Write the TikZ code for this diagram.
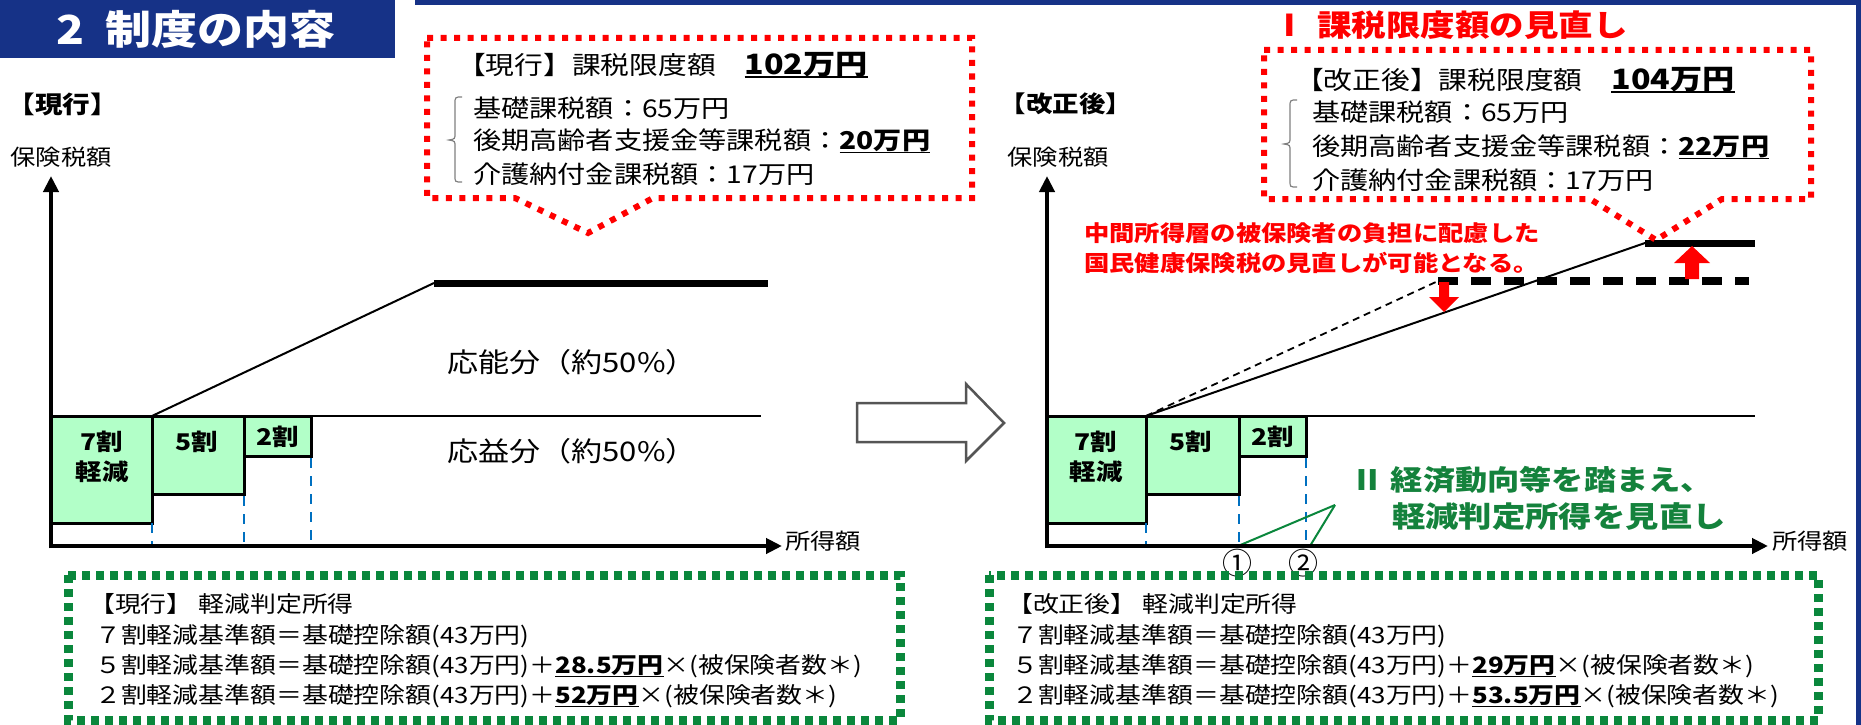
\documentclass[tikz,border=0pt]{standalone}
\usepackage{fontspec}
\setmainfont{Noto Sans CJK JP}
\usetikzlibrary{arrows.meta}
\definecolor{titleblue}{RGB}{22,50,135}
\definecolor{boxgreen}{RGB}{178,255,200}
\definecolor{dotgreen}{RGB}{10,135,60}
\definecolor{txtgreen}{RGB}{20,130,60}
\definecolor{dashblue}{RGB}{0,112,192}
\definecolor{arrgray}{RGB}{85,85,85}
\newcommand{\fs}[1]{\fontsize{#1}{#1}\selectfont}
\newsavebox{\ulbox}
\newcommand{\bul}[1]{\sbox{\ulbox}{\textbf{#1}}\rlap{\rule[-4pt]{\wd\ulbox}{1.8pt}}\usebox{\ulbox}}
\begin{document}
\begin{tikzpicture}[x=1pt,y=-1pt,
  txt/.style={inner sep=0pt, xscale=1.15, anchor=west},
  ctxt/.style={inner sep=0pt, xscale=1.15},
  axisline/.style={line width=4.5pt, -{Triangle[length=16pt,width=15pt]}},
  redbox/.style={draw=red, line width=6pt, dash pattern=on 6pt off 7.5pt},
  greenbox/.style={draw=dotgreen, line width=9pt, dash pattern=on 8pt off 6pt},
  rebox/.style={fill=boxgreen, draw=black, line width=3pt},
  bluedash/.style={dashblue, line width=2.5pt, dash pattern=on 10pt off 8pt},
  bracestyle/.style={draw=gray, line width=1.2pt},
]
\useasboundingbox (0,0) rectangle (1861,725);
\fill[white] (0,0) rectangle (1861,725);
% frame and title
\fill[titleblue] (0,0) rectangle (395,58);
\node[ctxt, text=white] (title) at (196,29) {\fs{40}\bfseries 2\hspace{0.45em}制度の内容};
\fill[titleblue] (415,0) rectangle (1861,5);
\fill[titleblue] (1856,0) rectangle (1861,725);

% ================= LEFT CHART =================
\node[ctxt] (lblL) at (63,104) {\fs{24}\bfseries 【現行】};
\node[ctxt] (yL) at (61,157) {\fs{22}保険税額};
\coordinate (OL) at (51,546);
\coordinate (OLb) at (51,548.25);
\coordinate (YL) at (51,176);
\coordinate (XL) at (782,546);

\draw[rebox] (51,416) rectangle (152,523);
\draw[rebox] (152,416) rectangle (244,494);
\draw[rebox] (244,416) rectangle (311,456);
\node[ctxt] (b7L) at (102,442) {\fs{23}\bfseries 7割};
\node[ctxt] (b7Lb) at (102,472) {\fs{23}\bfseries 軽減};
\node[ctxt] (b5L) at (197,442) {\fs{23}\bfseries 5割};
\node[ctxt] (b2L) at (278,437) {\fs{23}\bfseries 2割};

\coordinate (tlL1) at (311,416); \coordinate (tlL2) at (761,416);
\draw[line width=1.3pt] (tlL1) -- (tlL2);
\coordinate (dL1) at (152,416); \coordinate (dL2) at (434,283); \coordinate (dL3) at (768,283);
\draw[line width=2pt] (dL1) -- (dL2);
\draw[line width=7pt] (dL2) -- (dL3);

\node[ctxt] (onoL) at (572,362) {\fs{27}応能分（約50\%）};
\node[ctxt] (oekiL) at (572,451) {\fs{27}応益分（約50\%）};

\draw[bluedash] (152,523) -- (152,546);
\draw[bluedash] (244,496) -- (244,546);
\draw[bluedash] (311,458) -- (311,546);

\draw[axisline] (OLb) -- (YL);
\draw[axisline] (OL) -- (XL);
\node[txt] (xlabL) at (785,541) {\fs{22}所得額};

% left callout
\draw[redbox] (427,38) -- (972,38) -- (972,198) -- (653,198) -- (588,233) -- (515,198) -- (427,198) -- cycle;
\node[txt] (c1L) at (457,65) {\fs{25}【現行】課税限度額\hspace{1em}{\fs{28}\bul{102万円}}};
\draw[bracestyle] (462,97) .. controls (455,97) .. (455,104) -- (455,133) .. controls (455,139) .. (449,140) .. controls (455,141) .. (455,147) -- (455,176) .. controls (455,182) .. (462,182);
\node[txt] (c2L) at (473,108) {\fs{24.5}基礎課税額：65万円};
\node[txt] (c3L) at (473,141) {\fs{24.5}後期高齢者支援金等課税額：\bul{20万円}};
\node[txt] (c4L) at (473,174) {\fs{24.5}介護納付金課税額：17万円};

% big arrow
\draw[arrgray, line width=2.5pt, line join=miter] (857,403) -- (966,403) -- (966,384) -- (1004,423) -- (966,461) -- (966,442) -- (857,442) -- cycle;

% ================= RIGHT CHART =================
\node[txt, text=red] (hdrR) at (1272,25) {\fs{30}\bfseries Ⅰ\hspace{0.3em}課税限度額の見直し};
\node[ctxt] (lblR) at (1066,104) {\fs{23}\bfseries 【改正後】};
\node[ctxt] (yR) at (1058,157) {\fs{22}保険税額};
\coordinate (OR) at (1047,546);
\coordinate (ORb) at (1047,548.25);
\coordinate (YR) at (1047,176);
\coordinate (XR) at (1768,546);

\draw[rebox] (1047,416) rectangle (1146,523);
\draw[rebox] (1146,416) rectangle (1239,494);
\draw[rebox] (1239,416) rectangle (1306,456);
\node[ctxt] (b7R) at (1096,442) {\fs{23}\bfseries 7割};
\node[ctxt] (b7Rb) at (1096,472) {\fs{23}\bfseries 軽減};
\node[ctxt] (b5R) at (1191,442) {\fs{23}\bfseries 5割};
\node[ctxt] (b2R) at (1273,437) {\fs{23}\bfseries 2割};

\coordinate (tlR1) at (1306,416); \coordinate (tlR2) at (1755,416);
\draw[line width=1.3pt] (tlR1) -- (tlR2);
\coordinate (dR1) at (1146,416); \coordinate (dR2) at (1645,243); \coordinate (dR3) at (1755,243);
\coordinate (eR2) at (1438,281); \coordinate (eR3) at (1749,281);
\draw[line width=1.8pt, dash pattern=on 7pt off 5pt] (dR1) -- (eR2);
\draw[line width=8pt, dash pattern=on 20pt off 13pt] (eR2) -- (eR3);
\draw[line width=2pt] (dR1) -- (dR2);
\draw[line width=7pt] (dR2) -- (dR3);

% red arrows
\fill[red] (1439,282) -- (1449,282) -- (1449,297) -- (1459,297) -- (1444,312) -- (1429,297) -- (1439,297) -- cycle;
\fill[red] (1685,279) -- (1699,279) -- (1699,263) -- (1710,263) -- (1692,246) -- (1674,263) -- (1685,263) -- cycle;

\node[txt, text=red] (rt1) at (1084,233) {\fs{22}\bfseries 中間所得層の被保険者の負担に配慮した};
\node[txt, text=red] (rt2) at (1084,263) {\fs{22}\bfseries 国民健康保険税の見直しが可能となる。};

\draw[bluedash] (1146,523) -- (1146,546);
\draw[bluedash] (1239,496) -- (1239,546);
\draw[bluedash] (1306,458) -- (1306,546);

% green annotation
\node[txt, text=txtgreen] (gt1) at (1351,480) {\fs{28}\bfseries Ⅱ 経済動向等を踏まえ、};
\node[txt, text=txtgreen] (gt2) at (1392,517) {\fs{29}\bfseries 軽減判定所得を見直し};
\coordinate (gp) at (1335,505);
\coordinate (g1) at (1238,546);
\coordinate (g2) at (1310,546);
\draw[dotgreen, line width=2pt] (gp) -- (g1);
\draw[dotgreen, line width=2pt] (gp) -- (g2);

\draw[axisline] (ORb) -- (YR);
\draw[axisline] (OR) -- (XR);
\node[txt] (xlabR) at (1772,541) {\fs{22}所得額};
\node[inner sep=0pt] (n1) at (1237,563) {\fs{30}①};
\node[inner sep=0pt] (n2) at (1303,563) {\fs{30}②};

% right callout
\draw[redbox] (1264,50) -- (1811,50) -- (1811,199) -- (1722,199) -- (1656,240) -- (1590,199) -- (1264,199) -- cycle;
\node[txt] (c1R) at (1295,80) {\fs{25}【改正後】課税限度額\hspace{1em}{\fs{28}\bul{104万円}}};
\draw[bracestyle] (1297,100) .. controls (1290,100) .. (1290,107) -- (1290,137) .. controls (1290,143) .. (1284,144) .. controls (1290,145) .. (1290,151) -- (1290,181) .. controls (1290,187) .. (1297,187);
\node[txt] (c2R) at (1312,112) {\fs{24.5}基礎課税額：65万円};
\node[txt] (c3R) at (1312,147) {\fs{24.5}後期高齢者支援金等課税額：\bul{22万円}};
\node[txt] (c4R) at (1312,180) {\fs{24.5}介護納付金課税額：17万円};

% ================= BOTTOM BOXES =================
\draw[greenbox] (68,575) rectangle (900,720);
\node[txt] (gL1) at (89,604) {\fs{22.5}【現行】 軽減判定所得};
\node[txt] (gL2) at (95,636) {\fs{22.5}７割軽減基準額＝基礎控除額(43万円)};
\node[txt] (gL3) at (95,666) {\fs{22.5}５割軽減基準額＝基礎控除額(43万円)＋\bul{28.5万円}×(被保険者数＊)};
\node[txt] (gL4) at (95,696) {\fs{22.5}２割軽減基準額＝基礎控除額(43万円)＋\bul{52万円}×(被保険者数＊)};

\draw[greenbox] (989,575) rectangle (1818,720);
\node[txt] (gR1) at (1007,604) {\fs{22.5}【改正後】 軽減判定所得};
\node[txt] (gR2) at (1012,636) {\fs{22.5}７割軽減基準額＝基礎控除額(43万円)};
\node[txt] (gR3) at (1012,666) {\fs{22.5}５割軽減基準額＝基礎控除額(43万円)＋\bul{29万円}×(被保険者数＊)};
\node[txt] (gR4) at (1012,696) {\fs{22.5}２割軽減基準額＝基礎控除額(43万円)＋\bul{53.5万円}×(被保険者数＊)};
\end{tikzpicture}
\end{document}
